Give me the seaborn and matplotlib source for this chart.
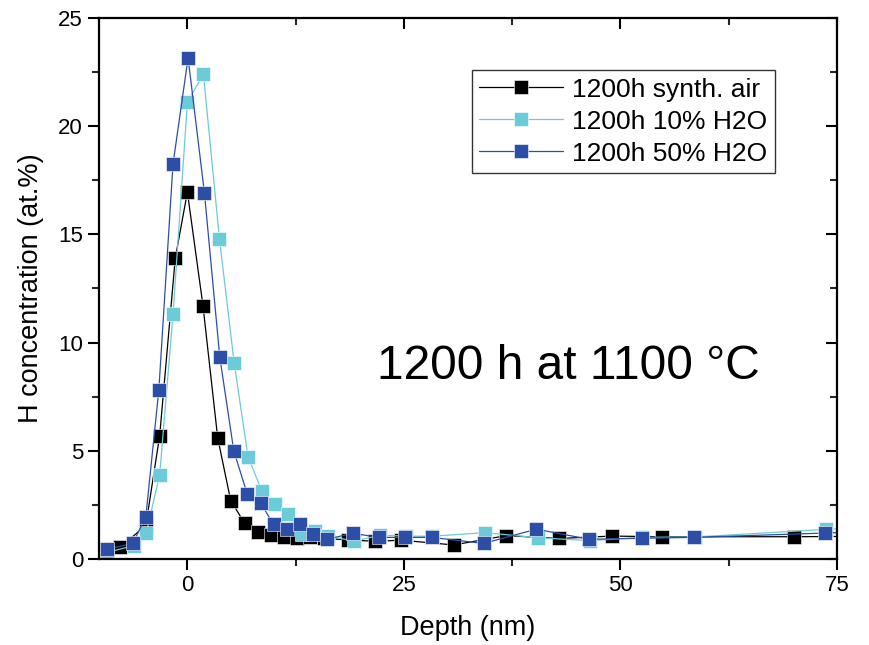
import matplotlib
matplotlib.use("Agg")
import matplotlib.pyplot as plt
import seaborn as sns
import pandas as pd
from matplotlib.lines import Line2D
from matplotlib.ticker import MultipleLocator

sns.set_style("ticks")
plt.rcParams['font.family'] = ['Liberation Sans', 'DejaVu Sans']

# --- data ---
air_x = [-7.75, -4.8, -3.2, -1.4, 0.0, 1.8, 3.5, 5.0, 6.6, 8.1, 9.6, 11.1, 12.65,
         14.2, 15.8, 18.6, 21.7, 24.7, 30.75, 36.8, 42.9, 49.0, 54.8, 70.1, 78.0]
air_y = [0.55, 1.55, 5.7, 13.9, 16.95, 11.7, 5.6, 2.7, 1.66, 1.23, 1.1, 1.03, 0.98,
         1.0, 0.95, 0.88, 0.82, 0.87, 0.65, 1.08, 0.95, 1.06, 1.03, 1.03, 1.05]

h10_x = [-9.3, -6.2, -4.75, -3.2, -1.66, 0.0, 1.85, 3.7, 5.4, 7.0, 8.6, 10.15, 11.65,
         13.2, 14.7, 16.2, 19.25, 22.3, 25.2, 28.2, 34.4, 40.5, 46.5, 52.5, 58.6, 73.8, 78.0]
h10_y = [0.3, 0.62, 1.2, 3.9, 11.3, 21.1, 22.4, 14.8, 9.07, 4.73, 3.14, 2.54, 2.06,
         1.17, 1.3, 1.08, 0.82, 1.1, 1.06, 1.05, 1.22, 0.98, 0.85, 1.0, 1.02, 1.37, 1.45]

h50_x = [-9.3, -6.3, -4.8, -3.3, -1.66, 0.08, 1.97, 3.74, 5.36, 6.9, 8.45, 9.95, 11.5,
         13.0, 14.55, 16.1, 19.1, 22.1, 25.15, 28.2, 34.2, 40.3, 46.4, 52.5, 58.5, 73.6, 78.0]
h50_y = [0.45, 0.72, 1.96, 7.8, 18.25, 23.15, 16.9, 9.33, 4.99, 3.02, 2.59, 1.6, 1.38,
         1.62, 1.14, 0.91, 1.19, 1.0, 1.0, 1.0, 0.72, 1.38, 0.91, 0.96, 1.0, 1.2, 1.25]

labels = ["1200h synth. air", "1200h 10% H2O", "1200h 50% H2O"]
colors = ["#000000", "#6ccbd8", "#2d4ea6"]

series = [(air_x, air_y), (h10_x, h10_y), (h50_x, h50_y)]

fig = plt.figure(figsize=(8.69, 6.45), dpi=100)
ax = fig.add_axes([0.114, 0.1333, 0.849, 0.839])

for (xs, ys), lab, col in zip(series, labels, colors):
    df = pd.DataFrame({"x": xs, "y": ys})
    sns.lineplot(data=df, x="x", y="y", ax=ax, sort=False, color=col,
                 marker="s", markersize=9.5, markeredgecolor="white",
                 markeredgewidth=0.4, linewidth=0.9, label=lab, legend=False,
                 clip_on=True)

ax.set_xlim(-10.2, 75)
ax.set_ylim(0, 25)
ax.xaxis.set_major_locator(MultipleLocator(25))
ax.xaxis.set_minor_locator(MultipleLocator(12.5))
ax.yaxis.set_major_locator(MultipleLocator(5))
ax.yaxis.set_minor_locator(MultipleLocator(2.5))

for s in ax.spines.values():
    s.set_visible(True)
    s.set_linewidth(1.6)
    s.set_color("black")

ax.tick_params(axis="both", which="major", direction="out", length=8, width=1.5,
               labelsize=16, color="black", labelcolor="black")
ax.tick_params(axis="both", which="minor", direction="out", length=5, width=1.5)
ax.tick_params(axis="both", which="both", top=True, right=True)
# top/right ticks point inward
for tick in ax.xaxis.get_major_ticks() + ax.xaxis.get_minor_ticks():
    tick.tick2line.set_marker(matplotlib.lines.TICKDOWN)
for tick in ax.yaxis.get_major_ticks() + ax.yaxis.get_minor_ticks():
    tick.tick2line.set_marker(matplotlib.lines.TICKLEFT)

ax.set_xlabel("Depth (nm)", fontsize=19.5, labelpad=14, color="black")
ax.set_ylabel("H concentration (at.%)", fontsize=19.5, labelpad=10, color="black")

ax.text(44, 8.9, "1200 h at 1100 °C", fontsize=34.5, ha="center", va="center",
        color="black")

handles = [Line2D([0], [0], color=c, marker="s", markersize=9.5,
                  markeredgecolor="white", markeredgewidth=0.4, linewidth=0.9)
           for c in colors]
leg = ax.legend(handles, labels, loc="upper right", bbox_to_anchor=(0.916, 0.904),
                fontsize=19, frameon=True, fancybox=False, edgecolor="black",
                handlelength=3.15, handletextpad=0.35, borderpad=0.3,
                labelspacing=0.3, borderaxespad=0)
leg.get_frame().set_linewidth(1.0)
for t in leg.get_texts():
    t.set_color("black")

fig.savefig("out.png", dpi=100)
